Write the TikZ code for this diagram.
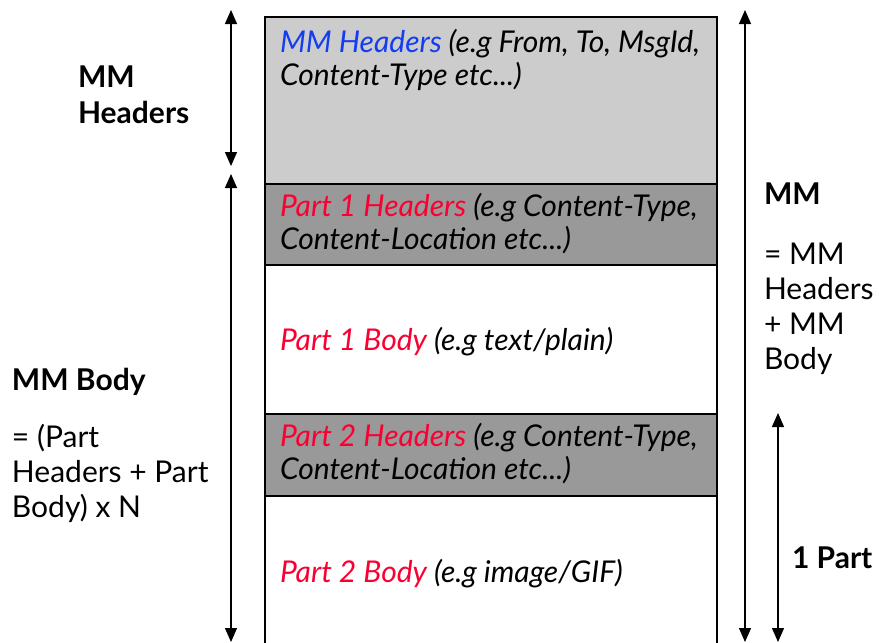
\documentclass[tikz,border=0pt]{standalone}
\usepackage{fontspec}
\setmainfont{Lato}
\usetikzlibrary{arrows.meta}
\definecolor{hdrblue}{RGB}{20,60,240}
\definecolor{partred}{RGB}{250,0,50}
\definecolor{lightgrey}{RGB}{204,204,204}
\definecolor{darkgrey}{RGB}{153,153,153}
\begin{document}
\begin{tikzpicture}[x=1pt,y=-1pt,
  every node/.style={font=\fontsize{30}{33}\selectfont, outer sep=0pt},
  part/.style={draw=black, line width=1.6pt, anchor=north west, minimum width=452pt, inner sep=0pt},
  desc/.style={anchor=base west, align=left, inner sep=0pt, font=\fontsize{30}{33}\selectfont\itshape},
  note/.style={anchor=base west, align=left, inner sep=0pt},
  span/.style={line width=1.3pt, {Triangle[width=12pt,length=14pt]}-{Triangle[width=12pt,length=14pt]}}]
\clip (0,0) rectangle (879,643);
% the message, top to bottom
\node[part, fill=lightgrey, minimum height=167pt] (mmhdr) at (265,17) {};
\node[part, fill=darkgrey, minimum height=81pt] (p1hdr) at (265,184) {};
\node[part, fill=white, minimum height=149pt] (p1body) at (265,265) {};
\node[part, fill=darkgrey, minimum height=82pt] (p2hdr) at (265,414) {};
\node[part, fill=white, minimum height=160pt] (p2body) at (265,496) {};
% texts in the boxes (base = last line)
\node[desc] (tmmhdr) at (280,85) {\textcolor{hdrblue}{MM Headers} (e.g From, To, MsgId,\\Content-Type etc...)};
\node[desc] (tp1hdr) at (280,249) {\textcolor{partred}{Part 1 Headers} (e.g Content-Type,\\Content-Location etc...)};
\node[desc] (tp1body) at (280,350) {\textcolor{partred}{Part 1 Body} (e.g text/plain)};
\node[desc] (tp2hdr) at (280,479) {\textcolor{partred}{Part 2 Headers} (e.g Content-Type,\\Content-Location etc...)};
\node[desc] (tp2body) at (280,582) {\textcolor{partred}{Part 2 Body} (e.g image/GIF)};
% ends of the spans
\coordinate (hdrtop) at (231,10);
\coordinate (hdrbot) at (231,166);
\coordinate (bodytop) at (231,174);
\coordinate (bodybot) at (231,642);
\coordinate (mmtop) at (745,10);
\coordinate (mmbot) at (745,642);
\coordinate (onetop) at (778,413);
\coordinate (onebot) at (778,642);
\draw[span] (hdrtop) -- (hdrbot);
\draw[span] (bodytop) -- (bodybot);
\draw[span] (mmtop) -- (mmbot);
\draw[span] (onetop) -- (onebot);
% side labels
\node[note, font=\fontsize{30}{36}\selectfont\bfseries] (lhdr) at (78,123) {MM\\Headers};
\node[note, font=\fontsize{30}{33}\selectfont\bfseries] (lmm) at (764,204) {MM};
\node[note, font=\fontsize{30}{35}\selectfont] (lmmeq) at (764,369) {= MM\\Headers\\+ MM\\Body};
\node[note, font=\fontsize{30}{33}\selectfont\bfseries] (lbody) at (12,390) {MM Body};
\node[note, font=\fontsize{30}{35}\selectfont] (lbodyeq) at (12,517) {= (Part\\Headers + Part\\Body) x N};
\node[note, font=\fontsize{30}{33}\selectfont\bfseries] (lone) at (792,568) {1 Part};
\end{tikzpicture}
\end{document}
